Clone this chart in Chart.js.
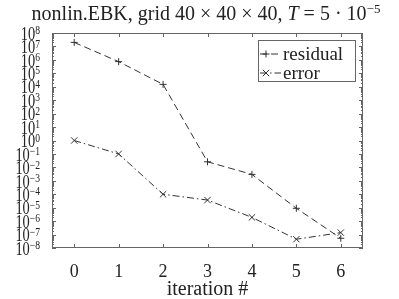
<!DOCTYPE html>
<html><head><meta charset="utf-8">
<script src="https://cdn.jsdelivr.net/npm/chart.js@4.4.1/dist/chart.umd.min.js"></script>
<style>html,body{margin:0;padding:0;background:#fff}#wrap{width:399px;height:299px}</style>
</head><body><div id="wrap"><canvas id="c" width="399" height="299"></canvas></div>
<script>
const iterations = [0, 1, 2, 3, 4, 5, 6];
const residual = [2e7, 7.4e5, 1.5e4, 2.6e-2, 3e-3, 9e-6, 5.3e-8];
const errorVals = [1.0, 0.1, 1e-4, 3.7e-5, 1.9e-6, 4.5e-8, 1.4e-7];
const yExponents = [8,7,6,5,4,3,2,1,0,-1,-2,-3,-4,-5,-6,-7,-8];
const seriesNames = ['residual', 'error'];
const titleParts = ['nonlin.EBK, grid 40 × 40 × 40, ', 'T', ' = 5 · 10', '−5'];
const xTitle = 'iteration #';

const FONT = '"Liberation Serif", "DejaVu Serif", serif';
const INK = '#333';

function pts(vals){ return iterations.map((x,i)=>({x:x, y:vals[i]})); }

const decor = {
  id: 'decor',
  afterDraw(chart){
    const ctx = chart.ctx, a = chart.chartArea;
    const xs = chart.scales.x, ys = chart.scales.y;
    ctx.save();
    // frame
    ctx.strokeStyle = '#666'; ctx.lineWidth = 1; ctx.setLineDash([]);
    ctx.strokeRect(a.left+0.5, a.top+0.5, a.right-a.left-1, a.bottom-a.top-1);
    ctx.beginPath();
    iterations.forEach(v=>{
      const px = Math.round(xs.getPixelForValue(v))+0.5;
      ctx.moveTo(px, a.bottom); ctx.lineTo(px, a.bottom-4);
      ctx.moveTo(px, a.top); ctx.lineTo(px, a.top+4);
    });
    yExponents.forEach(e=>{
      const py = Math.round(ys.getPixelForValue(Math.pow(10,e)))+0.5;
      ctx.moveTo(a.left, py); ctx.lineTo(a.left+4, py);
      ctx.moveTo(a.right, py); ctx.lineTo(a.right-4, py);
      if (e < 8) {
        for (let m=2;m<=9;m++){
          const q = Math.round(ys.getPixelForValue(m*Math.pow(10,e)))+0.5;
          ctx.moveTo(a.left, q); ctx.lineTo(a.left+2, q);
          ctx.moveTo(a.right, q); ctx.lineTo(a.right-2, q);
        }
      }
    });
    ctx.stroke();
    ctx.fillStyle = '#222';
    // y tick labels (slightly condensed, as in the reference)
    yExponents.forEach(e=>{
      const py = ys.getPixelForValue(Math.pow(10,e));
      const exp = (e<0?'−':'') + Math.abs(e);
      const right = 40, sx = 0.8;
      ctx.textBaseline = 'middle'; ctx.textAlign = 'left';
      ctx.font = '12px ' + FONT;
      const ew = ctx.measureText(exp).width * sx;
      ctx.font = '18px ' + FONT;
      const bw = ctx.measureText('10').width * sx;
      ctx.save();
      ctx.translate(right-ew-bw, 0); ctx.scale(sx, 1);
      ctx.fillText('10', 0, py+2);
      ctx.font = '12px ' + FONT;
      ctx.fillText(exp, bw/sx, py-2);
      ctx.restore();
    });
    // x tick labels
    ctx.font = '18px ' + FONT; ctx.textAlign = 'center'; ctx.textBaseline = 'middle';
    iterations.forEach(v=>{
      ctx.fillText(String(v), xs.getPixelForValue(v), 272);
    });
    ctx.font = '20px ' + FONT;
    ctx.fillText(xTitle, (a.left+a.right)/2, 290);
    // title
    const fonts = ['20px '+FONT, 'italic 20px '+FONT, '20px '+FONT, '13px '+FONT];
    let widths = titleParts.map((t,i)=>{ctx.font=fonts[i]; return ctx.measureText(t).width;});
    let total = widths.reduce((s,w)=>s+w,0);
    let x = 206 - total/2;
    ctx.textAlign='left'; ctx.textBaseline='alphabetic';
    titleParts.forEach((t,i)=>{
      ctx.font = fonts[i];
      ctx.fillText(t, x, i===3 ? 13 : 20);
      x += widths[i];
    });
    // legend
    const lx = 258, ly = 40, lw = 97, lh = 41;
    ctx.fillStyle = '#fff'; ctx.fillRect(lx, ly, lw, lh);
    ctx.strokeStyle = '#666'; ctx.lineWidth = 1;
    ctx.strokeRect(lx+0.5, ly+0.5, lw, lh);
    const rows = [54, 73];
    chart.data.datasets.forEach((ds,i)=>{
      const y = rows[i];
      ctx.strokeStyle = INK; ctx.lineWidth = 1;
      ctx.setLineDash(ds.borderDash);
      ctx.beginPath(); ctx.moveTo(260, y); ctx.lineTo(281, y); ctx.stroke();
      ctx.setLineDash([]);
      Chart.helpers.drawPoint(ctx, {pointStyle: ds.pointStyle, radius: ds.pointRadius, borderWidth: 1}, 266, y);
      ctx.fillStyle = '#222'; ctx.font = '19px ' + FONT;
      ctx.textBaseline = 'middle'; ctx.textAlign = 'left';
      ctx.fillText(ds.label, 283, y+1);
    });
    ctx.restore();
  }
};

new Chart(document.getElementById('c'), {
  type: 'line',
  data: {
    datasets: [
      { label: seriesNames[0], data: pts(residual), borderColor: INK, borderWidth: 1,
        borderDash: [7,4], pointStyle: 'cross', pointRadius: 3.5, pointBorderColor: INK,
        pointBorderWidth: 1, fill: false, tension: 0 },
      { label: seriesNames[1], data: pts(errorVals), borderColor: INK, borderWidth: 1,
        borderDash: [7,3,1.5,3], pointStyle: 'crossRot', pointRadius: 4.5, pointBorderColor: INK,
        pointBorderWidth: 1, fill: false, tension: 0 }
    ]
  },
  options: {
    responsive: false, animation: false, devicePixelRatio: 1,
    layout: { padding: { left: 52, right: 36, top: 33, bottom: 51 } },
    plugins: { legend: { display: false }, title: { display: false }, tooltip: { enabled: false } },
    scales: {
      x: { type: 'linear', min: -0.5, max: 6.5, display: false },
      y: { type: 'logarithmic', min: 1e-8, max: 1e8, display: false }
    }
  },
  plugins: [decor]
});
</script>
</body></html>
